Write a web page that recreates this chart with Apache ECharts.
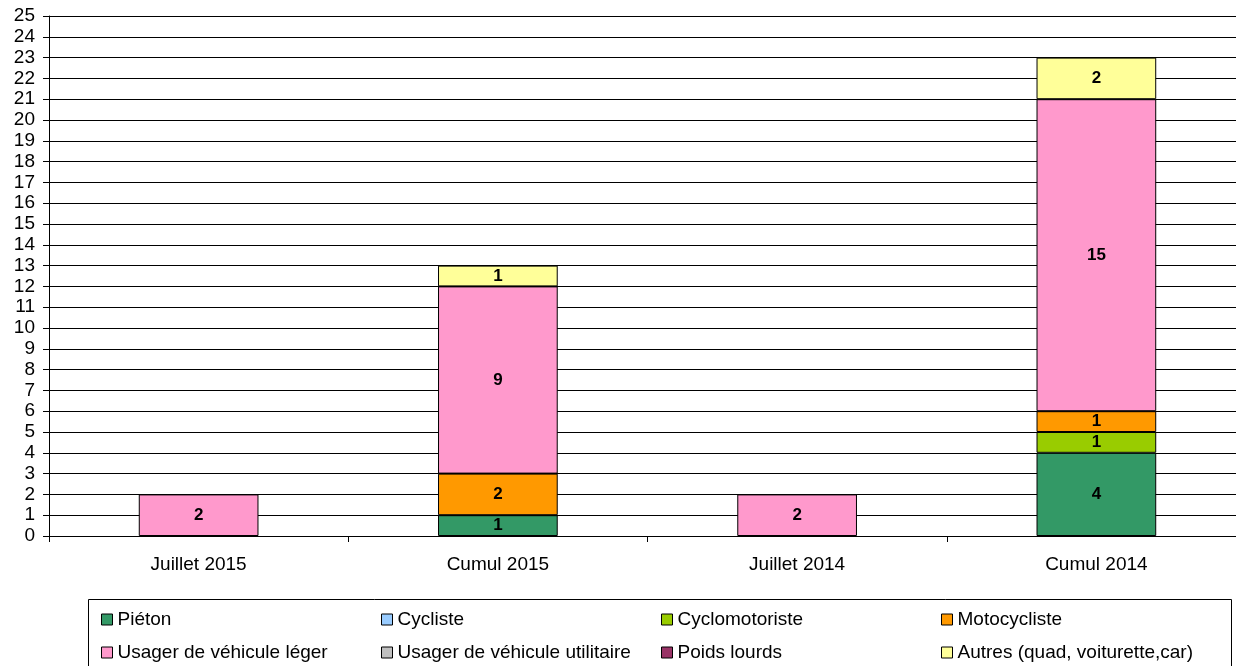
<!DOCTYPE html>
<html>
<head>
<meta charset="utf-8">
<script src="https://cdn.jsdelivr.net/npm/echarts@6/dist/echarts.min.js"></script>
<style>
  html, body { margin: 0; padding: 0; background: #fff; }
  #main { width: 1236px; height: 666px; }
</style>
</head>
<body>
<div id="main"></div>
<script>
// catégories et séries
var categories = ['Juillet 2015', 'Cumul 2015', 'Juillet 2014', 'Cumul 2014'];
var seriesNames = ['Piéton', 'Cycliste', 'Cyclomotoriste', 'Motocycliste',
  'Usager de véhicule léger', 'Usager de véhicule utilitaire', 'Poids lourds',
  'Autres (quad, voiturette,car)'];
var colors = ['#339966', '#99CCFF', '#99CC00', '#FF9900', '#FF99CC', '#C0C0C0', '#993366', '#FFFF99'];

var pieton = [0, 1, 0, 4];
var cycliste = [0, 0, 0, 0];
var cyclomoto = [0, 0, 0, 1];
var moto = [0, 2, 0, 1];
var vl = [2, 9, 2, 15];
var utilitaire = [0, 0, 0, 0];
var poidsLourds = [0, 0, 0, 0];
var autres = [0, 1, 0, 2];

var values = [pieton, cycliste, cyclomoto, moto, vl, utilitaire, poidsLourds, autres];

var myChart = echarts.init(document.getElementById('main'));

var series = seriesNames.map(function (name, i) {
  return {
    name: name,
    type: 'bar',
    stack: 'total',
    barWidth: '40%',
    data: values[i].map(function (v) { return v === 0 ? '-' : v; }),
    itemStyle: { color: colors[i], borderColor: '#000', borderWidth: 1 },
    label: {
      show: true,
      position: 'inside',
      color: '#000',
      fontWeight: 'bold',
      fontSize: 17,
      fontFamily: 'Liberation Sans'
    }
  };
});

// légende en 4 colonnes x 2 lignes
var colX = [96, 376, 656, 936];
var rowY = [605, 638];
var legends = seriesNames.map(function (name, i) {
  return {
    data: [name],
    left: colX[i % 4],
    top: rowY[Math.floor(i / 4)],
    itemWidth: 11,
    itemHeight: 11,
    itemGap: 5,
    icon: 'rect',
    itemStyle: { borderColor: '#000', borderWidth: 1 },
    textStyle: { fontSize: 19, color: '#000', fontFamily: 'Liberation Sans', padding: [0, 0, 0, 0] },
    selectedMode: false
  };
});

var option = {
  animation: false,
  textStyle: { fontFamily: 'Liberation Sans' },
  grid: { left: 49, top: 16, width: 1197, height: 520, outerBoundsMode: 'none' },
  legend: legends,
  graphic: [{
    type: 'rect',
    shape: { x: 88.5, y: 599.5, width: 1143, height: 80 },
    style: { fill: 'none', stroke: '#000', lineWidth: 1 }
  }],
  xAxis: {
    type: 'category',
    data: categories,
    axisLine: { lineStyle: { color: '#000', width: 1 } },
    axisTick: { show: true, length: 6, lineStyle: { color: '#000' } },
    axisLabel: { color: '#000', fontSize: 19, margin: 19 }
  },
  yAxis: {
    type: 'value',
    min: 0,
    max: 25,
    interval: 1,
    axisLine: { show: true, lineStyle: { color: '#000', width: 1 } },
    axisTick: { show: true, length: 6, lineStyle: { color: '#000' } },
    axisLabel: { color: '#000', fontSize: 19, margin: 14 },
    splitLine: { show: true, lineStyle: { color: '#000', width: 1 } }
  },
  series: series
};

myChart.setOption(option);
</script>
</body>
</html>
